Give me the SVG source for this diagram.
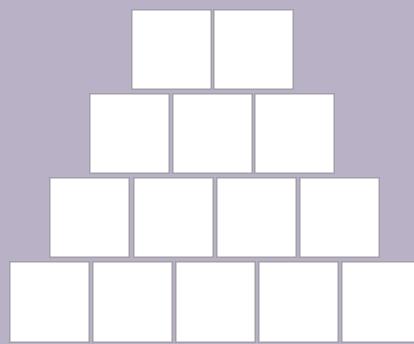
<svg xmlns="http://www.w3.org/2000/svg" width="414" height="344" viewBox="0 0 414 344">
<style>
.bg{fill:#b9b1c6}
.tile{fill:#ffffff;stroke:#a29fa9;stroke-width:1.5}
</style>
<rect class="bg" x="0" y="0" width="414" height="344"/>
<g id="row1">
<rect id="t1-1" class="tile" x="131.75" y="9.75" width="79.5" height="79.5"/>
<rect id="t1-2" class="tile" x="213.75" y="9.75" width="79.5" height="79.5"/>
</g>
<g id="row2">
<rect id="t2-1" class="tile" x="89.75" y="93.75" width="79.5" height="79.5"/>
<rect id="t2-2" class="tile" x="172.75" y="93.75" width="79.5" height="79.5"/>
<rect id="t2-3" class="tile" x="254.75" y="93.75" width="79.5" height="79.5"/>
</g>
<g id="row3">
<rect id="t3-1" class="tile" x="49.75" y="177.75" width="79.5" height="79.5"/>
<rect id="t3-2" class="tile" x="133.75" y="177.75" width="79.5" height="79.5"/>
<rect id="t3-3" class="tile" x="216.75" y="177.75" width="79.5" height="79.5"/>
<rect id="t3-4" class="tile" x="299.75" y="177.75" width="79.5" height="79.5"/>
</g>
<g id="row4">
<rect id="t4-1" class="tile" x="9.75" y="261.75" width="79.5" height="80.5"/>
<rect id="t4-2" class="tile" x="92.75" y="261.75" width="79.5" height="80.5"/>
<rect id="t4-3" class="tile" x="175.75" y="261.75" width="79.5" height="80.5"/>
<rect id="t4-4" class="tile" x="258.75" y="261.75" width="79.5" height="80.5"/>
<rect id="t4-5" class="tile" x="341.75" y="261.75" width="79.5" height="80.5"/>
</g>
<g id="connectors"/>
</svg>
